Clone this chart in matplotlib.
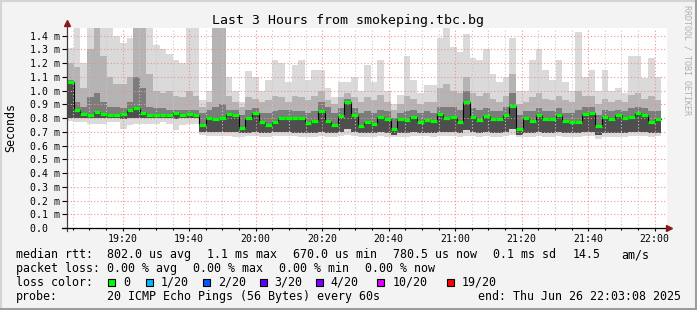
import numpy as np
import matplotlib
matplotlib.use('Agg')
import matplotlib.pyplot as plt
from matplotlib.lines import Line2D
from matplotlib.patches import Rectangle

plt.rcParams['font.family'] = ['DejaVu Sans Mono']

# 2-minute columns starting 19:03, values in ms
start_min = 3.3      # minutes after 19:00
step_min = 1.985

median = [1.06, 0.86, 0.83, 0.825, 0.845, 0.83, 0.825, 0.825, 0.83, 0.86,
          0.87, 0.835, 0.825, 0.825, 0.825, 0.825, 0.835, 0.825, 0.83, 0.825,
          0.75, 0.80, 0.79, 0.80, 0.83, 0.82, 0.73, 0.80, 0.84, 0.77,
          0.75, 0.775, 0.80, 0.80, 0.80, 0.80, 0.765, 0.78, 0.85, 0.78,
          0.75, 0.815, 0.915, 0.825, 0.74, 0.77, 0.76, 0.81, 0.79, 0.72,
          0.795, 0.785, 0.81, 0.775, 0.785, 0.78, 0.83, 0.80, 0.81, 0.77,
          0.92, 0.81, 0.785, 0.815, 0.79, 0.79, 0.82, 0.885, 0.72, 0.80,
          0.78, 0.825, 0.79, 0.79, 0.82, 0.78, 0.775, 0.775, 0.83, 0.835,
          0.745, 0.805, 0.795, 0.825, 0.80, 0.81, 0.835, 0.825, 0.77, 0.79]

smoke_max = [1.31, 1.46, 1.20, 1.46, 1.46, 1.46, 1.46, 1.40, 1.35, 1.38,
             1.46, 1.46, 1.46, 1.33, 1.30, 1.27, 1.22, 1.20, 1.46, 1.46,
             0.93, 1.00, 1.46, 1.46, 1.10, 1.00, 0.92, 1.14, 1.10, 1.00,
             1.08, 1.22, 1.20, 1.06, 1.19, 1.22, 1.08, 1.15, 1.15, 1.02,
             0.95, 1.06, 1.06, 1.10, 1.00, 1.19, 1.06, 1.22, 1.00, 0.90,
             0.97, 1.25, 1.08, 0.98, 1.04, 1.04, 1.38, 1.46, 1.32, 1.28,
             1.41, 1.24, 1.22, 1.30, 1.12, 1.06, 1.10, 1.38, 1.00, 1.00,
             1.22, 1.30, 1.15, 1.08, 1.22, 1.06, 1.00, 1.43, 1.10, 1.15,
             1.00, 1.15, 1.00, 1.02, 0.98, 1.25, 1.25, 1.09, 1.24, 1.10]

smoke_mid_hi = [1.20, 1.17, 1.02, 1.30, 1.46, 1.25, 1.10, 1.05, 1.05, 1.10,
                1.46, 1.46, 1.12, 1.00, 0.98, 1.00, 0.96, 0.95, 1.00, 0.96,
                0.88, 0.92, 1.46, 1.46, 0.96, 0.92, 0.88, 0.95, 0.94, 0.92,
                0.93, 0.96, 0.95, 0.92, 0.96, 0.95, 0.93, 0.96, 1.00, 0.93,
                0.90, 0.95, 0.98, 0.95, 0.92, 0.95, 0.93, 0.97, 0.92, 0.86,
                0.90, 0.96, 0.94, 0.90, 0.92, 0.92, 1.02, 1.05, 1.00, 0.98,
                1.10, 0.98, 0.96, 0.98, 0.94, 0.92, 0.96, 1.12, 0.90, 0.92,
                0.95, 0.98, 0.94, 0.93, 0.96, 0.93, 0.92, 1.00, 0.96, 0.96,
                0.90, 0.94, 0.92, 0.93, 0.92, 0.97, 0.98, 0.94, 0.96, 0.93]

smoke_dark_hi = [1.08, 0.92, 0.88, 0.95, 0.98, 0.92, 0.88, 0.88, 0.87, 0.92,
                 1.10, 1.02, 0.88, 0.87, 0.87, 0.86, 0.86, 0.86, 0.86, 0.86,
                 0.84, 0.86, 0.88, 0.90, 0.86, 0.86, 0.82, 0.86, 0.87, 0.84,
                 0.84, 0.85, 0.86, 0.86, 0.85, 0.85, 0.84, 0.85, 0.92, 0.88,
                 0.84, 0.87, 0.94, 0.87, 0.84, 0.85, 0.84, 0.86, 0.85, 0.80,
                 0.84, 0.85, 0.86, 0.84, 0.85, 0.84, 0.88, 0.88, 0.88, 0.86,
                 1.00, 0.87, 0.86, 0.87, 0.85, 0.85, 0.88, 0.98, 0.82, 0.85,
                 0.85, 0.87, 0.85, 0.85, 0.87, 0.84, 0.84, 0.86, 0.88, 0.88,
                 0.82, 0.86, 0.85, 0.86, 0.85, 0.87, 0.88, 0.87, 0.85, 0.85]

smoke_dark_lo = [0.80, 0.80, 0.80, 0.80, 0.80, 0.80, 0.80, 0.80, 0.79, 0.80,
                 0.80, 0.80, 0.80, 0.80, 0.80, 0.80, 0.79, 0.80, 0.80, 0.80,
                 0.70, 0.70, 0.70, 0.70, 0.70, 0.70, 0.69, 0.69, 0.70, 0.69,
                 0.69, 0.70, 0.70, 0.70, 0.69, 0.69, 0.69, 0.69, 0.70, 0.69,
                 0.69, 0.70, 0.72, 0.70, 0.69, 0.69, 0.69, 0.70, 0.69, 0.68,
                 0.69, 0.69, 0.70, 0.69, 0.69, 0.69, 0.70, 0.70, 0.70, 0.69,
                 0.71, 0.70, 0.69, 0.70, 0.69, 0.69, 0.70, 0.72, 0.68, 0.69,
                 0.69, 0.70, 0.69, 0.69, 0.70, 0.69, 0.69, 0.69, 0.70, 0.70,
                 0.68, 0.69, 0.69, 0.69, 0.69, 0.70, 0.70, 0.70, 0.69, 0.69]

smoke_min = [0.78, 0.77, 0.77, 0.76, 0.76, 0.76, 0.77, 0.77, 0.72, 0.75,
             0.76, 0.76, 0.76, 0.76, 0.77, 0.76, 0.71, 0.75, 0.76, 0.76,
             0.68, 0.67, 0.67, 0.67, 0.67, 0.66, 0.66, 0.67, 0.67, 0.66,
             0.66, 0.67, 0.67, 0.67, 0.67, 0.66, 0.66, 0.66, 0.67, 0.66,
             0.66, 0.67, 0.68, 0.67, 0.66, 0.66, 0.66, 0.67, 0.66, 0.66,
             0.66, 0.66, 0.67, 0.67, 0.67, 0.66, 0.67, 0.67, 0.67, 0.66,
             0.67, 0.67, 0.66, 0.67, 0.66, 0.66, 0.67, 0.68, 0.66, 0.66,
             0.66, 0.67, 0.66, 0.66, 0.67, 0.66, 0.66, 0.66, 0.67, 0.67,
             0.65, 0.66, 0.66, 0.66, 0.66, 0.67, 0.67, 0.67, 0.66, 0.67]

y_ticks = [0.0, 0.1, 0.2, 0.3, 0.4, 0.5, 0.6, 0.7, 0.8, 0.9, 1.0, 1.1, 1.2, 1.3, 1.4]
x_ticks = [20, 40, 60, 80, 100, 120, 140, 160, 180]
x_labels = ['19:20', '19:40', '20:00', '20:20', '20:40', '21:00', '21:20', '21:40', '22:00']

loss_labels = ['0', '1/20', '2/20', '3/20', '4/20', '10/20', '19/20']
loss_colors = ['#00ff00', '#00b8ff', '#0059ff', '#5e00ff', '#7e00ff', '#dd00ff', '#ff0000']

W, H = 697, 310
fig = plt.figure(figsize=(W / 100, H / 100), dpi=100, facecolor='#f3f3f3')
ax = fig.add_axes([67 / W, (H - 228) / H, 600 / W, (228 - 27.7) / H])
ax.set_facecolor('white')
ax.set_xlim(3.25, 183.7)
ax.set_ylim(0, 1.458)

lo = np.array(smoke_min)
dlo = np.array(smoke_dark_lo)
dhi = np.array(smoke_dark_hi)
mhi = np.array(smoke_mid_hi)
hi = np.array(smoke_max)
med = np.array(median)
t = start_min + step_min * np.arange(len(med))

# smoke, light to dark
ax.bar(t, hi - lo, bottom=lo, width=step_min, align='edge', color='#dadada', linewidth=0, zorder=1)
ax.bar(t, mhi - dlo, bottom=dlo, width=step_min, align='edge', color='#b4b4b4', linewidth=0, zorder=1.1)
ax.bar(t, dhi - med, bottom=med, width=step_min, align='edge', color='#7c7c7c', linewidth=0, zorder=1.2)
ax.bar(t, med - dlo, bottom=dlo, width=step_min, align='edge', color='#4e4e4e', linewidth=0, zorder=1.3)

# grid
for m in range(5, 184, 5):
    if m % 20 == 0:
        ax.axvline(m, color='#f09090', lw=0.8, ls=(0, (1, 2)), zorder=3)
    else:
        ax.axvline(m, color='#c8c8c8', lw=0.8, ls=(0, (1, 2)), zorder=3)
for v in y_ticks[1:]:
    ax.axhline(v, color='#f09090', lw=0.8, ls=(0, (1, 2)), zorder=3)

# median
edges = np.append(t, t[-1] + step_min)
ax.step(edges, np.append(med, med[-1]), where='post', color='black', lw=0.8, zorder=4)
ax.hlines(med, t, t + step_min, color='#00ff00', lw=2.3, zorder=5)

for s in ax.spines.values():
    s.set_visible(False)

ax.set_yticks(y_ticks)
ax.set_yticklabels(['0.0  '] + ['%.1f m' % v for v in y_ticks[1:]])
ax.set_xticks(x_ticks)
ax.set_xticklabels(x_labels)
ax.set_xticks(list(range(5, 184, 5)), minor=True)
ax.tick_params(axis='y', length=3.6, width=0.8, pad=1.4, labelsize=7.1, color='black')
ax.tick_params(axis='x', which='major', length=1.8, width=0.8, pad=2.8, labelsize=7.1)
ax.tick_params(axis='x', which='minor', length=1.4, width=0.8)

# axes with arrows
fig.add_artist(Line2D([67 / W, 67 / W], [(H - 231) / H, (H - 24) / H], color='#404040', lw=0.9))
fig.add_artist(Line2D([62 / W, 668 / W], [(H - 228) / H, (H - 228) / H], color='black', lw=0.9))
fig.add_artist(Line2D([67 / W], [(H - 23) / H], marker='^', color='#8b1a1a', ms=4, lw=0))
fig.add_artist(Line2D([669 / W], [(H - 228) / H], marker='>', color='#8b1a1a', ms=4, lw=0))

# frame
fig.add_artist(Line2D([0, 1], [1 - 1 / H, 1 - 1 / H], color='#d4d4d4', lw=1.5))
fig.add_artist(Line2D([1 / W, 1 / W], [0, 1], color='#d4d4d4', lw=1.5))
fig.add_artist(Line2D([0, 1], [1.5 / H, 1.5 / H], color='#9c9c9c', lw=2.2))
fig.add_artist(Line2D([1 - 1.5 / W, 1 - 1.5 / W], [0, 1], color='#9c9c9c', lw=2.2))

# texts
fig.text(347.5 / W, 1 - 24 / H, 'Last 3 Hours from smokeping.tbc.bg',
         ha='center', va='baseline', fontsize=9.5)
fig.text(10.5 / W, 1 - 128 / H, 'Seconds', rotation=90, ha='center', va='center', fontsize=8.4)
fig.text(687.5 / W, 1 - 60 / H, 'RRDTOOL / TOBI OETIKER', rotation=270,
         ha='center', va='center', fontsize=6, color='#b0b0b0')

def put(x, yb, s):
    fig.text(x / W, 1 - yb / H, s, ha='left', va='baseline', fontsize=8.4)

put(16, 258, 'median rtt:')
put(107.3, 258, '802.0 us avg')
put(207.3, 258, '1.1 ms max')
put(292.7, 258, '670.0 us min')
put(393.3, 258, '780.5 us now')
put(493.3, 258, '0.1 ms sd')
put(572.3, 258, '14.5')
put(621, 258, 'am/s')

put(16, 271.7, 'packet loss:')
put(107.3, 271.7, '0.00 % avg')
put(192.7, 271.7, '0.00 % max')
put(279.3, 271.7, '0.00 % min')
put(365, 271.7, '0.00 % now')

put(16, 285.7, 'loss color:')
sq_x = [108.3, 145.7, 202.7, 259.7, 315.7, 377.3, 446.7]
for sx, lab, col in zip(sq_x, loss_labels, loss_colors):
    fig.add_artist(Rectangle((sx / W, (H - 285.7) / H), 7 / W, 7 / H,
                             transform=fig.transFigure, facecolor=col,
                             edgecolor='black', lw=0.8))
    put(sx + 15, 285.7, lab)

put(16, 300, 'probe:')
put(107.3, 300, '20 ICMP Echo Pings (56 Bytes) every 60s')
put(478.3, 300, 'end: Thu Jun 26 22:03:08 2025')

fig.savefig('out.png', dpi=100, facecolor=fig.get_facecolor())
